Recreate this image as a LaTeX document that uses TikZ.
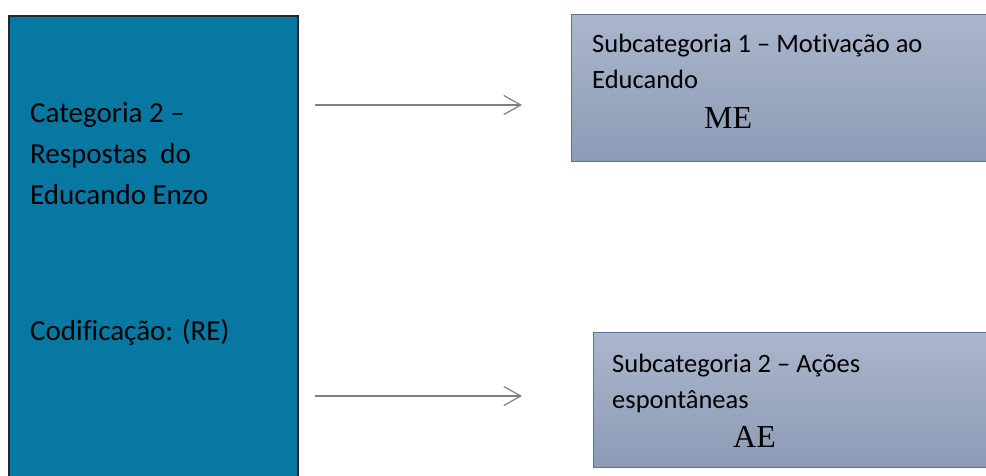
\documentclass[tikz,border=0pt]{standalone}
\usepackage{fontspec}
\setmainfont{Carlito}[Ligatures=CommonOff]
\newfontfamily\codefont{Liberation Serif}
\usetikzlibrary{arrows.meta}
\definecolor{catblue}{RGB}{6,120,161}
\definecolor{subtop}{RGB}{170,182,204}
\definecolor{subbot}{RGB}{140,155,182}
\definecolor{subline}{RGB}{92,115,150}
\definecolor{linkgray}{RGB}{128,128,128}

\begin{document}
\begin{tikzpicture}[x=1pt,y=-1pt,
    catbox/.style={draw=black!85,line width=1.5pt,fill=catblue,anchor=north west,inner sep=0pt},
    subbox/.style={draw=subline,line width=1pt,top color=subtop,bottom color=subbot,anchor=north west,inner sep=0pt},
    cattext/.style={anchor=base west,inner sep=0pt,font=\fontsize{29}{40}\selectfont},
    subtext/.style={anchor=base west,inner sep=0pt,font=\fontsize{26.5}{36}\selectfont},
    codetext/.style={anchor=base west,inner sep=0pt,font=\codefont\fontsize{32}{36}\selectfont},
    link/.style={draw=linkgray,line width=1.2pt,-{Straight Barb[length=17pt,width=19pt]}}]
        \clip (0,0) rectangle (986,475);
        % categoria
        \node [catbox,minimum width=289pt,minimum height=480pt] (cat) at (8,15) {};
        \node [cattext] (cat1) at (30,122) {Categoria 2 –};
        \node [cattext] (cat2) at (30,163) {Respostas\ \ do};
        \node [cattext] (cat3) at (30,204) {Educando Enzo};
        \node [cattext] (catcode) at (30,340) {Codificação: (RE)};
        % subcategoria 1
        \node [subbox,minimum width=430pt,minimum height=147pt] (sub1) at (571,14) {};
        \node [subtext] (sub1a) at (592,52) {Subcategoria 1 – Motivação ao};
        \node [subtext] (sub1b) at (592,88) {Educando};
        \node [codetext] (sub1code) at (704,128) {ME};
        % subcategoria 2
        \node [subbox,minimum width=410pt,minimum height=135pt] (sub2) at (593,332) {};
        \node [subtext] (sub2a) at (612,372) {Subcategoria 2 – Ações};
        \node [subtext] (sub2b) at (612,408) {espontâneas};
        \node [codetext] (sub2code) at (733,447) {AE};
        % setas
        \draw [link,shorten <=16pt,shorten >=49pt] (cat.east |- 0,105) -- (sub1.west |- 0,105);
        \draw [link,shorten <=16pt,shorten >=71pt] (cat.east |- 0,396) -- (sub2.west |- 0,396);
    \end{tikzpicture}
\end{document}
